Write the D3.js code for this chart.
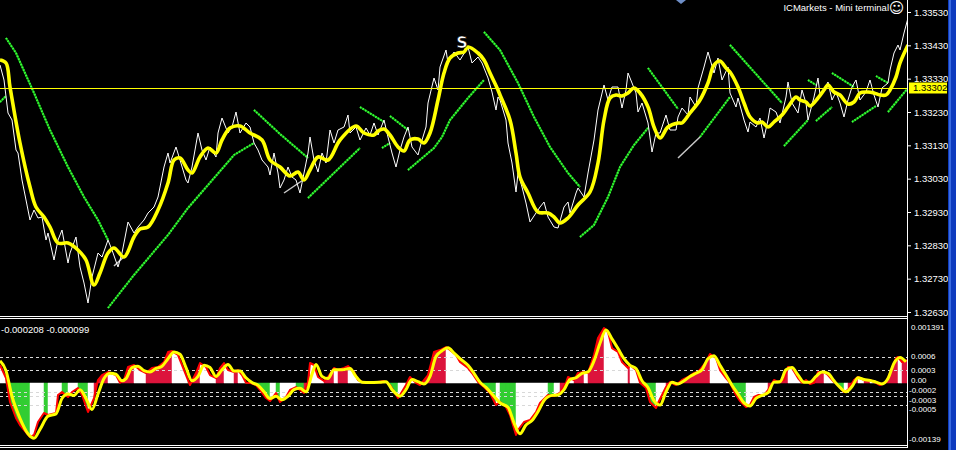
<!DOCTYPE html>
<html><head><meta charset="utf-8">
<script src="https://cdn.jsdelivr.net/npm/d3@7"></script>
<style>html,body{margin:0;padding:0;background:#000;overflow:hidden}</style>
</head><body><svg id="c" width="956" height="450"></svg>
<script>
// ---------- DATA ----------
const closeSeries = [[0,1.33371],[2,1.33326],[4,1.33227],[6,1.33206],[8,1.33116],[9,1.33107],[11,1.33026],[14,1.32936],[15,1.32906],[17,1.32936],[19,1.32912],[21,1.32915],[23,1.32846],[24,1.32867],[27,1.32786],[29,1.32846],[31,1.32876],[34,1.32777],[35,1.32807],[38,1.32855],[40,1.32765],[42,1.32717],[44,1.32657],[46,1.32735],[49,1.32807],[51,1.32795],[54,1.32846],[56,1.32816],[59,1.32765],[61,1.32807],[64,1.32900],[67,1.32867],[69,1.32885],[72,1.32906],[74,1.32927],[77,1.32945],[79,1.32975],[82,1.33065],[84,1.33107],[85,1.33077],[88,1.33125],[90,1.33086],[93,1.33026],[94,1.33017],[96,1.33065],[99,1.33167],[101,1.33116],[103,1.33086],[105,1.33125],[108,1.33095],[109,1.33167],[111,1.33212],[114,1.33167],[116,1.33185],[118,1.33230],[120,1.33167],[123,1.33197],[125,1.33185],[127,1.33137],[129,1.33116],[131,1.33086],[134,1.33065],[135,1.33041],[137,1.33107],[139,1.33047],[140,1.33002],[142,1.33026],[144,1.33065],[146,1.33035],[148,1.33026],[150,1.32987],[152,1.33047],[154,1.33107],[155,1.33155],[157,1.33086],[159,1.33050],[161,1.33107],[163,1.33077],[165,1.33176],[167,1.33137],[169,1.33176],[172,1.33185],[174,1.33221],[175,1.33167],[178,1.33185],[180,1.33146],[183,1.33182],[185,1.33161],[187,1.33197],[189,1.33161],[192,1.33206],[194,1.33155],[196,1.33107],[198,1.33065],[200,1.33116],[202,1.33155],[204,1.33185],[206,1.33125],[209,1.33101],[211,1.33146],[213,1.33185],[214,1.33257],[217,1.33332],[219,1.33296],[220,1.33365],[223,1.33416],[224,1.33377],[227,1.33410],[230,1.33386],[234,1.33425],[236,1.33377],[239,1.33395],[241,1.33377],[244,1.33332],[246,1.33290],[248,1.33236],[249,1.33275],[250,1.33266],[253,1.33206],[254,1.33137],[256,1.33077],[258,1.32990],[259,1.33047],[261,1.33005],[263,1.32957],[265,1.32900],[268,1.32927],[270,1.32945],[272,1.32960],[274,1.32915],[277,1.32885],[279,1.32882],[282,1.32945],[284,1.32960],[285,1.32927],[288,1.32987],[289,1.33002],[292,1.32975],[294,1.33047],[297,1.33146],[299,1.33236],[302,1.33311],[304,1.33266],[306,1.33305],[309,1.33305],[311,1.33242],[313,1.33296],[314,1.33347],[316,1.33317],[318,1.33287],[319,1.33230],[321,1.33257],[324,1.33197],[326,1.33110],[328,1.33167],[330,1.33167],[333,1.33221],[335,1.33176],[338,1.33176],[339,1.33215],[341,1.33242],[344,1.33221],[345,1.33275],[348,1.33245],[349,1.33302],[352,1.33365],[354,1.33410],[357,1.33347],[359,1.33392],[361,1.33326],[364,1.33365],[365,1.33287],[368,1.33245],[369,1.33272],[372,1.33206],[374,1.33170],[375,1.33200],[378,1.33185],[380,1.33212],[382,1.33152],[384,1.33206],[385,1.33242],[388,1.33230],[390,1.33197],[393,1.33275],[394,1.33320],[396,1.33257],[399,1.33227],[401,1.33296],[403,1.33257],[404,1.33206],[407,1.33275],[409,1.33332],[410,1.33281],[412,1.33296],[414,1.33320],[416,1.33266],[418,1.33290],[420,1.33257],[422,1.33215],[424,1.33266],[426,1.33305],[428,1.33326],[430,1.33266],[433,1.33290],[435,1.33326],[437,1.33281],[439,1.33245],[441,1.33302],[444,1.33317],[445,1.33356],[447,1.33407],[449,1.33431],[450,1.33416],[452,1.33467],[454,1.33512]];

const maSeries = [[0,1.33386],[3,1.33377],[5,1.33305],[10,1.33137],[15,1.33005],[18,1.32945],[22,1.32915],[25,1.32885],[29,1.32837],[34,1.32837],[39,1.32816],[43,1.32786],[47,1.32711],[50,1.32747],[54,1.32807],[57,1.32822],[62,1.32795],[67,1.32855],[70,1.32879],[74,1.32885],[79,1.32936],[84,1.33017],[87,1.33086],[90,1.33092],[94,1.33056],[96,1.33047],[100,1.33095],[104,1.33122],[108,1.33107],[111,1.33146],[115,1.33182],[120,1.33188],[125,1.33167],[131,1.33146],[135,1.33086],[140,1.33065],[145,1.33038],[149,1.33050],[152,1.33026],[155,1.33056],[159,1.33095],[164,1.33086],[170,1.33146],[178,1.33188],[182,1.33167],[187,1.33161],[189,1.33173],[192,1.33179],[195,1.33161],[199,1.33125],[202,1.33113],[205,1.33146],[209,1.33149],[212,1.33137],[215,1.33167],[219,1.33266],[222,1.33347],[225,1.33392],[229,1.33407],[232,1.33410],[234,1.33425],[239,1.33407],[242,1.33386],[245,1.33347],[249,1.33296],[250,1.33281],[255,1.33206],[258,1.33107],[260,1.33035],[264,1.32987],[269,1.32930],[274,1.32927],[277,1.32915],[280,1.32897],[284,1.32912],[289,1.32951],[295,1.32990],[299,1.33077],[302,1.33206],[305,1.33272],[308,1.33281],[311,1.33278],[314,1.33287],[317,1.33302],[320,1.33287],[324,1.33245],[327,1.33185],[330,1.33152],[334,1.33185],[339,1.33197],[341,1.33197],[345,1.33227],[350,1.33266],[354,1.33317],[357,1.33371],[360,1.33383],[363,1.33362],[365,1.33350],[369,1.33305],[372,1.33257],[375,1.33215],[379,1.33197],[381,1.33200],[384,1.33185],[387,1.33200],[391,1.33221],[394,1.33245],[398,1.33275],[400,1.33266],[403,1.33260],[405,1.33248],[409,1.33272],[412,1.33296],[414,1.33311],[417,1.33290],[420,1.33281],[424,1.33254],[427,1.33260],[430,1.33287],[434,1.33290],[437,1.33287],[440,1.33281],[443,1.33281],[445,1.33296],[448,1.33335],[450,1.33377],[454,1.33431]];

const sarSegments = [
 [[3,1.33452],[8,1.33407],[17,1.33287],[25,1.33176],[34,1.33065],[42,1.32975],[49,1.32906],[54,1.32846]],
 [[0,1.33260],[3,1.33278]],
 [[54,1.32642],[67,1.32741],[84,1.32861],[94,1.32942],[104,1.33011],[117,1.33101],[127,1.33137]],
 [[127,1.33236],[140,1.33164],[154,1.33092]],
 [[154,1.32972],[180,1.33122]],
 [[180,1.33245],[192,1.33200]],
 [[191,1.33122],[195,1.33137]],
 [[195,1.33218],[204,1.33176]],
 [[204,1.33056],[217,1.33122],[221,1.33155],[225,1.33206],[234,1.33272],[242,1.33326]],
 [[242,1.33470],[250,1.33416],[259,1.33317],[267,1.33215],[275,1.33125],[284,1.33047],[290,1.33005]],
 [[290,1.32855],[297,1.32891],[304,1.32975],[310,1.33065],[317,1.33131],[324,1.33182]],
 [[324,1.33362],[339,1.33239]],
 [[350,1.33155],[365,1.33275]],
 [[365,1.33431],[391,1.33257]],
 [[392,1.33128],[404,1.33206]],
 [[404,1.33326],[408,1.33311]],
 [[408,1.33203],[416,1.33245]],
 [[416,1.33347],[427,1.33305]],
 [[426,1.33200],[438,1.33248]],
 [[438,1.33338],[444,1.33317]],
 [[444,1.33230],[454,1.33302]]
];

const greySegments = [
 [[57,1.32768],[64,1.32807]],
 [[142,1.32987],[153,1.33032]],
 [[339,1.33092],[350,1.33155]]
];

const oscSeries = [[0,0.000408],[3,0.000113],[5,-0.000430],[8,-0.000792],[10,-0.000951],[15,-0.001223],[17,-0.001177],[19,-0.000883],[22,-0.000679],[24,-0.000724],[28,-0.000679],[29,-0.000272],[31,-0.000204],[34,-0.000317],[36,-0.000204],[39,-0.000113],[41,-0.000272],[44,-0.000657],[47,-0.000340],[49,0.000068],[51,0.000181],[54,0.000249],[58,0.000181],[60,0.000005],[62,0.000068],[64,0.000362],[67,0.000408],[70,0.000294],[73,0.000226],[76,0.000340],[79,0.000362],[82,0.000475],[84,0.000702],[86,0.000724],[89,0.000634],[91,0.000408],[94,0.000068],[95,-0.000045],[98,0.000226],[100,0.000453],[103,0.000362],[105,0.000181],[108,0.000113],[110,0.000340],[112,0.000453],[114,0.000294],[117,0.000249],[119,0.000294],[121,0.000181],[123,0.000005],[125,0.000003],[128,-0.000045],[130,-0.000158],[133,-0.000340],[135,-0.000408],[138,-0.000226],[140,-0.000430],[143,-0.000317],[145,-0.000158],[148,-0.000091],[150,-0.000158],[152,-0.000226],[154,0.000023],[155,0.000453],[157,0.000408],[159,0.000136],[162,0.000045],[164,0.000136],[167,0.000340],[169,0.000294],[172,0.000340],[174,0.000385],[177,0.000249],[179,0.000068],[182,0.000008],[185,0.000010],[189,0.000023],[192,0.000045],[195,-0.000045],[199,-0.000340],[200,-0.000272],[203,-0.000045],[205,0.000136],[208,0.000005],[210,-0.000045],[214,0.000181],[217,0.000702],[220,0.000747],[223,0.000815],[225,0.000747],[228,0.000634],[230,0.000475],[234,0.000340],[236,0.000226],[239,0.000023],[242,-0.000091],[245,-0.000226],[248,-0.000498],[250,-0.000430],[253,-0.000543],[255,-0.000724],[258,-0.001177],[259,-0.001064],[262,-0.000883],[265,-0.000838],[268,-0.000657],[270,-0.000453],[274,-0.000272],[277,-0.000294],[280,-0.000226],[283,0.000005],[284,0.000136],[287,0.000068],[289,0.000226],[292,0.000249],[294,0.000226],[297,0.000634],[299,0.001019],[302,0.001245],[304,0.001155],[306,0.000792],[309,0.000702],[311,0.000475],[314,0.000340],[315,0.000408],[318,0.000294],[320,0.000005],[323,-0.000113],[325,-0.000430],[328,-0.000566],[329,-0.000453],[333,-0.000091],[335,0.000023],[338,-0.000045],[341,0.000068],[344,0.000136],[347,0.000226],[349,0.000249],[353,0.000475],[355,0.000657],[358,0.000566],[360,0.000294],[363,0.000113],[365,0.000005],[368,-0.000272],[370,-0.000408],[373,-0.000543],[375,-0.000498],[377,-0.000317],[379,-0.000272],[382,-0.000272],[384,-0.000158],[387,0.000068],[389,0.000023],[392,0.000068],[394,0.000362],[396,0.000340],[399,0.000113],[401,0.000005],[403,0.000068],[405,-0.000023],[407,0.000005],[409,0.000249],[412,0.000249],[414,0.000181],[417,0.000023],[419,-0.000045],[422,-0.000204],[424,-0.000158],[427,0.000068],[429,0.000136],[432,0.000068],[435,0.000068],[438,0.000005],[440,-0.000045],[443,0.000023],[445,0.000226],[448,0.000566],[449,0.000589],[451,0.000475],[454,0.000521]];

const signalSeries = [[0,0.00050],[3,0.00028],[6,-0.00030],[10,-0.00080],[14,-0.00115],[17,-0.00125],[20,-0.00105],[24,-0.00075],[28,-0.00070],[31,-0.00035],[34,-0.00025],[37,-0.00028],[40,-0.00015],[43,-0.00035],[46,-0.00060],[49,-0.00025],[52,0.00010],[55,0.00022],[58,0.00020],[61,0.00005],[63,0.00010],[66,0.00035],[69,0.00038],[72,0.00028],[75,0.00025],[78,0.00033],[81,0.00038],[84,0.00055],[87,0.00070],[90,0.00065],[93,0.00035],[96,0.00005],[99,0.00015],[102,0.00040],[105,0.00035],[108,0.00015],[111,0.00030],[114,0.00042],[117,0.00027],[120,0.00027],[123,0.00012],[126,0.00001],[129,-0.00005],[132,-0.00020],[135,-0.00035],[138,-0.00030],[141,-0.00038],[144,-0.00030],[147,-0.00015],[150,-0.00012],[153,-0.00020],[156,0.00020],[158,0.00042],[161,0.00015],[164,0.00010],[167,0.00030],[171,0.00030],[175,0.00033],[178,0.00015],[181,0.00002],[185,0.00001],[190,0.00002],[193,0.00003],[196,-0.00015],[200,-0.00030],[203,-0.00015],[206,0.00008],[209,0.00003],[212,-0.00002],[215,0.00015],[218,0.00060],[221,0.00073],[224,0.00080],[227,0.00068],[230,0.00055],[234,0.00040],[237,0.00022],[240,0.00002],[243,-0.00010],[247,-0.00030],[250,-0.00045],[254,-0.00055],[257,-0.00090],[260,-0.00115],[263,-0.00095],[266,-0.00085],[269,-0.00065],[272,-0.00040],[276,-0.00028],[279,-0.00027],[282,-0.00015],[285,0.00008],[288,0.00012],[291,0.00022],[294,0.00025],[297,0.00050],[300,0.00090],[303,0.00120],[306,0.00100],[309,0.00078],[312,0.00055],[315,0.00040],[318,0.00033],[321,0.00005],[324,-0.00010],[327,-0.00040],[330,-0.00050],[333,-0.00020],[336,0.00002],[339,-0.00002],[342,0.00005],[345,0.00015],[348,0.00022],[351,0.00030],[354,0.00055],[357,0.00062],[360,0.00040],[363,0.00018],[366,-0.00005],[369,-0.00025],[372,-0.00045],[375,-0.00052],[378,-0.00035],[381,-0.00028],[384,-0.00022],[387,0.00002],[390,0.00003],[393,0.00030],[396,0.00035],[399,0.00018],[402,0.00002],[405,0.00002],[408,0.00015],[411,0.00025],[414,0.00022],[417,0.00005],[420,-0.00010],[423,-0.00020],[426,-0.00008],[429,0.00012],[432,0.00008],[435,0.00006],[438,0.00002],[441,-0.00002],[444,0.00010],[447,0.00045],[450,0.00058],[453,0.00048]];

const priceTicks = [1.33530,1.33430,1.33330,1.33230,1.33130,1.33030,1.32930,1.32830,1.32730,1.32630];
const oscTicks = [0.001391,0.0006,0.0003,0,-0.0002,-0.0003,-0.0005,-0.00139];
const oscTickLabels = ["0.001391","0.0006","0.0003","0.00","-0.0002","-0.0003","-0.0005","-0.00139"];
const oscLevels = [0.0006,0.0003,-0.0002,-0.0003,-0.0005];
const hLinePrice = 1.33302;
const hLineLabel = "1.33302";
const markerS = {bar:231, price:1.33422, text:"S"};
const titleText = "ICMarkets - Mini terminal";
const subInfoText = "-0.000208 -0.000099";

// ---------- LAYOUT ----------
const svg = d3.select("#c");
const FONT = "'Liberation Sans', Arial, sans-serif";
const R = 907;
const x = d3.scaleLinear().domain([0,453.5]).range([0,R]);
const y = d3.scaleLinear().domain([1.32630,1.33530]).range([312,12]);
const ys = d3.scaleLinear().domain([-0.00139,0.001391]).range([444.4,321.6]);

svg.append("rect").attr("width",956).attr("height",450).attr("fill","#000");

const defs = svg.append("defs");
defs.append("clipPath").attr("id","cm").append("rect").attr("x",0).attr("y",0).attr("width",R).attr("height",317);
defs.append("clipPath").attr("id","cs").append("rect").attr("x",0).attr("y",320).attr("width",R).attr("height",126);

// ---------- MAIN PANEL ----------
const gm = svg.append("g").attr("clip-path","url(#cm)");

const segLine = d3.line().x(d=>x(d[0])).y(d=>y(d[1]));
const sarG = gm.append("g");
sarSegments.forEach(s=>{
  sarG.append("path").attr("d",segLine(s)).attr("fill","none").attr("stroke","#12a012").attr("stroke-width",2);
  sarG.append("path").attr("d",segLine(s)).attr("fill","none").attr("stroke","#3cff3c").attr("stroke-width",2).attr("stroke-dasharray","1.5,1.5");
});
greySegments.forEach(s=>{
  sarG.append("path").attr("d",segLine(s)).attr("fill","none").attr("stroke","#c8c8c8").attr("stroke-width",1.5);
});

gm.append("path").attr("d",d3.line().x(d=>x(d[0])).y(d=>y(d[1]))(closeSeries))
  .attr("fill","none").attr("stroke","#ffffff").attr("stroke-width",1);

gm.append("line").attr("x1",0).attr("x2",R).attr("y1",y(hLinePrice)+0.5).attr("y2",y(hLinePrice)+0.5)
  .attr("stroke","#ffff00").attr("stroke-width",1);

gm.append("path").attr("d",d3.line().curve(d3.curveCatmullRom.alpha(0.5)).x(d=>x(d[0])).y(d=>y(d[1]))(maSeries))
  .attr("fill","none").attr("stroke","#ffff00").attr("stroke-width",3.6).attr("stroke-linejoin","round");

gm.append("text").attr("x",x(markerS.bar)).attr("y",y(markerS.price)).attr("text-anchor","middle")
  .attr("font-family","'DejaVu Sans', sans-serif").attr("font-weight","bold").attr("font-size",16)
  .attr("fill","#fff").attr("stroke","#000").attr("stroke-width",0.6).text(markerS.text);

// small scroll marker at the top edge
svg.append("path").attr("d","M676,0 L686,0 L681,4 Z").attr("fill","#6f8fc8");

// ---------- SUB PANEL ----------
const gs = svg.append("g").attr("clip-path","url(#cs)");
const area = d3.area().x(d=>x(d[0])).y0(ys(0)).y1(d=>ys(d[1]));
for(let i=1;i<oscSeries.length;i++){
  const a=oscSeries[i-1], b=oscSeries[i];
  let col;
  if(b[1]>=0) col = b[1]>=a[1] ? "#dc143c" : "#ffffff";
  else col = b[1]<a[1] ? "#32cd32" : "#ffffff";
  gs.append("path").attr("d",area([a,b])).attr("fill",col).attr("stroke",col).attr("stroke-width",0.5);
}
oscLevels.forEach(v=>{
  gs.append("line").attr("x1",0).attr("x2",R).attr("y1",Math.round(ys(v))+0.5).attr("y2",Math.round(ys(v))+0.5)
    .attr("stroke","#d8d8d8").attr("stroke-width",1).attr("stroke-dasharray","3,3");
});
gs.append("path").attr("d",d3.line().x(d=>x(d[0])).y(d=>ys(d[1]))(oscSeries))
  .attr("fill","none").attr("stroke","#ff0000").attr("stroke-width",2).attr("stroke-linejoin","round");
gs.append("path").attr("d",d3.line().curve(d3.curveMonotoneX).x(d=>x(d[0])).y(d=>ys(d[1]))(signalSeries))
  .attr("fill","none").attr("stroke","#ffff00").attr("stroke-width",3).attr("stroke-linejoin","round");

// ---------- FRAMES ----------
const fr = svg.append("g").attr("stroke","#fff").attr("stroke-width",1).attr("shape-rendering","crispEdges");
[316.5,318.5,445.5,447.5].forEach(v=>fr.append("line").attr("x1",0).attr("x2",R+1).attr("y1",v).attr("y2",v));
fr.append("line").attr("x1",R+0.5).attr("x2",R+0.5).attr("y1",0).attr("y2",448);

// ---------- AXES ----------
const pAx = svg.append("g").attr("transform",`translate(${R+1},0)`)
  .call(d3.axisRight(y).tickValues(priceTicks).tickFormat(d3.format(".5f")).tickSize(3).tickPadding(3));
pAx.select(".domain").remove();
pAx.selectAll("line").attr("stroke","#fff");
pAx.selectAll("text").attr("fill","#fff").attr("font-family",FONT).attr("font-size",9.5);

// price label
svg.append("rect").attr("x",909).attr("y",y(hLinePrice)-5.5).attr("width",38).attr("height",11).attr("fill","#ffff00");
svg.append("text").attr("x",913).attr("y",y(hLinePrice)).attr("dy","0.35em").attr("fill","#000")
  .attr("font-family",FONT).attr("font-size",9.5).text(hLineLabel);

// oscillator scale labels (top/bottom kept inside the pane, crowded ones spread slightly)
const oscLabelY = v => {
  const p = ys(v);
  if (v === 0) return p - 2.5;
  if (v === -0.0002) return p - 1.5;
  if (v === -0.0003) return p + 3.5;
  if (v === -0.0005) return p + 4;
  return Math.min(Math.max(p,327),439.5);
};
svg.append("g").selectAll("text").data(oscTicks).join("text")
  .attr("x",d=> d<0 ? 909 : 911)
  .attr("y",d=>oscLabelY(d)).attr("dy","0.35em")
  .attr("fill","#fff").attr("font-family",FONT).attr("font-size",8)
  .text((d,i)=>oscTickLabels[i]);

svg.append("text").attr("x",1).attr("y",330).attr("dy","0.35em").attr("fill","#fff")
  .attr("font-family",FONT).attr("font-size",9.5).text(subInfoText);

// title
svg.append("text").attr("x",889).attr("y",8).attr("dy","0.35em").attr("text-anchor","end").attr("fill","#fff")
  .attr("font-family",FONT).attr("font-size",9.5).text(titleText);
svg.append("text").attr("x",896.5).attr("y",8).attr("dy","0.35em").attr("text-anchor","middle").attr("fill","#fff")
  .attr("font-family","'DejaVu Sans', sans-serif").attr("font-size",15).text("\u263A");

// right blue strip
svg.append("rect").attr("x",948).attr("y",0).attr("width",8).attr("height",450).attr("fill","#0d3bbf");
svg.append("rect").attr("x",949).attr("y",0).attr("width",2).attr("height",450).attr("fill","#3a6be0");
</script></body></html>
